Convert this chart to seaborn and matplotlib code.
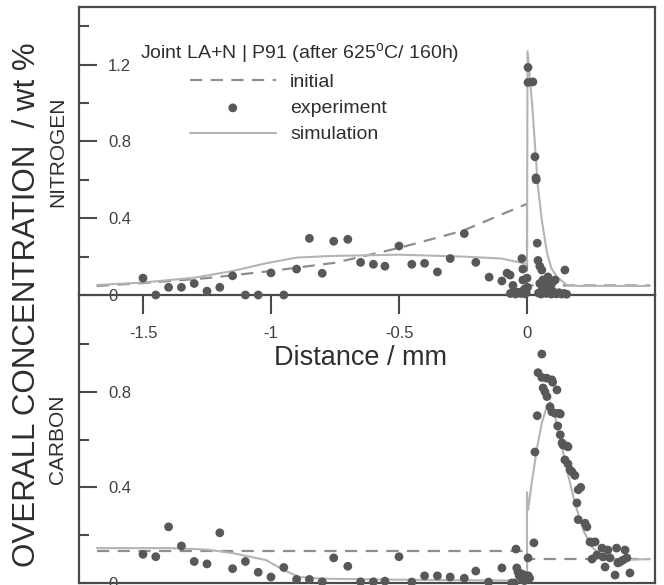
import numpy as np
import pandas as pd
import matplotlib
matplotlib.use("Agg")
import matplotlib.pyplot as plt
import seaborn as sns

# ---------------- NITROGEN (top panel) ----------------
n_init_x = [-1.68, -1.50, -1.25, -1.00, -0.75, -0.50, -0.25, 0.00, 0.00, 0.48]
n_init_y = [0.047, 0.062, 0.088, 0.125, 0.168, 0.245, 0.335, 0.475, 0.05, 0.05]

n_sim_x = [-1.68, -1.50, -1.30, -1.15, -1.02, -0.90, -0.77, -0.50, -0.25, -0.10, -0.03, 0.000,
           0.002, 0.010, 0.022, 0.038, 0.043, 0.058, 0.078, 0.095, 0.117, 0.156, 0.20, 0.48]
n_sim_y = [0.052, 0.065, 0.090, 0.125, 0.165, 0.195, 0.203, 0.210, 0.200, 0.190, 0.170, 0.160,
           1.27, 1.15, 0.96, 0.65, 0.56, 0.39, 0.22, 0.14, 0.094, 0.052, 0.047, 0.047]

n_exp_x = [-1.50, -1.45, -1.40, -1.35, -1.30, -1.25, -1.20, -1.15, -1.10, -1.05, -1.00, -0.95,
           -0.90, -0.85, -0.80, -0.755, -0.70, -0.65, -0.60, -0.555, -0.50, -0.45, -0.40, -0.35,
           -0.30, -0.245, -0.20, -0.148, -0.098, -0.078, -0.066, -0.055, -0.02, -0.016, -0.016, 0.0,
           -0.065, -0.055, -0.045, -0.035, -0.025, -0.015, -0.008, -0.003, -0.010, 0.002,
           0.004, 0.004, 0.023, 0.031, 0.035, 0.036,
           0.040, 0.043, 0.050, 0.058, 0.062, 0.070, 0.082, 0.098, 0.110, 0.148,
           0.045, 0.055, 0.065, 0.075, 0.085, 0.095, 0.105, 0.115, 0.125, 0.135, 0.145, 0.155,
           0.060, 0.090, 0.100, 0.078, 0.050]
n_exp_y = [0.088, 0.0, 0.04, 0.04, 0.06, 0.02, 0.04, 0.10, 0.0, 0.0, 0.115, 0.0,
           0.135, 0.295, 0.113, 0.28, 0.29, 0.17, 0.16, 0.15, 0.255, 0.16, 0.165, 0.12,
           0.19, 0.32, 0.17, 0.093, 0.073, 0.114, 0.104, 0.05, 0.19, 0.135, 0.078, 0.088,
           0.008, 0.012, 0.005, 0.015, 0.008, 0.02, 0.006, 0.012, 0.03, 0.04,
           1.185, 1.107, 1.11, 0.72, 0.61, 0.60,
           0.27, 0.18, 0.15, 0.13, 0.078, 0.042, 0.094, 0.062, 0.078, 0.13,
           0.01, 0.005, 0.015, 0.008, 0.012, 0.005, 0.01, 0.006, 0.012, 0.005, 0.008, 0.004,
           0.03, 0.035, 0.02, 0.05, 0.06]

# ---------------- CARBON (bottom panel) ----------------
c_init_x = [-1.68, 0.00, 0.00, 0.48]
c_init_y = [0.133, 0.133, 0.100, 0.100]

c_sim_x = [-1.68, -1.40, -1.25, -1.15, -1.02, -0.95, -0.89, -0.80, -0.60, -0.30, -0.05, 0.000,
           0.000, 0.004, 0.020, 0.040, 0.058, 0.077, 0.090, 0.110, 0.130, 0.156, 0.187, 0.220,
           0.254, 0.297, 0.350, 0.48]
c_sim_y = [0.146, 0.146, 0.140, 0.125, 0.096, 0.054, 0.025, 0.018, 0.015, 0.012, 0.010, 0.010,
           0.380, 0.305, 0.430, 0.570, 0.670, 0.737, 0.757, 0.695, 0.600, 0.473, 0.335, 0.220,
           0.150, 0.110, 0.096, 0.100]

c_exp_x = [-1.50, -1.45, -1.40, -1.35, -1.30, -1.25, -1.20, -1.15, -1.10, -1.05, -1.00, -0.95,
           -0.90, -0.85, -0.80, -0.755, -0.70, -0.65, -0.60, -0.555, -0.50, -0.45, -0.40, -0.35,
           -0.30, -0.245, -0.20, -0.15, -0.098, -0.043, -0.040,
           -0.035, -0.030, -0.025, -0.020, -0.015, -0.010, -0.005, 0.000, 0.005, 0.010, -0.050,
           -0.060, 0.004, 0.027,
           0.031, 0.040, 0.043, 0.058, 0.058, 0.063, 0.070, 0.077, 0.078, 0.090, 0.097, 0.097,
           0.100, 0.110, 0.117, 0.120, 0.125, 0.130, 0.130, 0.137, 0.141, 0.148, 0.156, 0.160,
           0.160, 0.168, 0.176, 0.187, 0.195, 0.200, 0.210, 0.200, 0.227, 0.234, 0.246, 0.254,
           0.266, 0.293, 0.316, 0.350, 0.383, 0.254, 0.273, 0.297, 0.324, 0.355, 0.375, 0.390,
           0.305, 0.344, 0.402, 0.363]
c_exp_y = [0.12, 0.11, 0.235, 0.155, 0.09, 0.08, 0.21, 0.06, 0.09, 0.045, 0.025, 0.065,
           0.015, 0.015, 0.005, 0.105, 0.07, 0.005, 0.005, 0.008, 0.11, 0.004, 0.03, 0.03,
           0.025, 0.02, 0.05, 0.004, 0.063, 0.142, 0.063,
           0.045, 0.03, 0.04, 0.02, 0.035, 0.01, 0.025, 0.015, 0.03, 0.02, 0.0,
           0.0, 0.105, 0.168,
           0.548, 0.70, 0.88, 0.958, 0.86, 0.816, 0.80, 0.857, 0.78, 0.737, 0.85, 0.716,
           0.84, 0.71, 0.808, 0.657, 0.71, 0.707, 0.62, 0.586, 0.577, 0.515, 0.573, 0.57,
           0.498, 0.473, 0.465, 0.45, 0.335, 0.39, 0.40, 0.265, 0.25, 0.235, 0.172, 0.17,
           0.172, 0.146, 0.138, 0.146, 0.138, 0.10, 0.117, 0.109, 0.105, 0.084, 0.096, 0.105,
           0.067, 0.033, 0.042, 0.088]

x_ticks = [-1.5, -1.0, -0.5, 0.0]
x_tick_labels = ["-1.5", "-1", "-0.5", "0"]
n_yticks = [0.0, 0.4, 0.8, 1.2]
n_ytick_labels = ["0", "0.4", "0.8", "1.2"]
c_yticks = [0.0, 0.4, 0.8]
c_ytick_labels = ["0", "0.4", "0.8"]

# ---------------- style ----------------
sns.set_style("ticks")
plt.rcParams['font.family'] = ['Liberation Sans', 'DejaVu Sans']
plt.rcParams['mathtext.fontset'] = 'custom'
plt.rcParams['mathtext.rm'] = 'Liberation Sans'
plt.rcParams['mathtext.it'] = 'Liberation Sans'

PT_COL = "#585858"
SIM_COL = "#b4b4b4"
INI_COL = "#8e8e8e"
SPINE_COL = "#4a4a4a"
TXT_COL = "#2e2e2e"
TICK_TXT = "#404040"

fig = plt.figure(figsize=(6.64, 5.85), dpi=100)
W, H = 664, 585
L, R = 79 / W, 655 / W
ax_c = fig.add_axes([L, 1 - 583 / H, R - L, (583 - 295) / H])
ax_n = fig.add_axes([L, 1 - 295 / H, R - L, (295 - 7) / H])
ax_n.set_zorder(3)
ax_n.patch.set_alpha(0)


def draw(ax, ix, iy, sx, sy, ex, ey):
    sns.lineplot(x=ix, y=iy, ax=ax, estimator=None, sort=False, color=INI_COL,
                 linewidth=1.6, linestyle=(0, (5.5, 3.8)))
    sns.scatterplot(x=ex, y=ey, ax=ax, color=PT_COL, s=40, edgecolor="none",
                    clip_on=False, zorder=3)
    sns.lineplot(x=sx, y=sy, ax=ax, estimator=None, sort=False, color=SIM_COL,
                 linewidth=1.5)


draw(ax_n, n_init_x, n_init_y, n_sim_x, n_sim_y, n_exp_x, n_exp_y)
draw(ax_c, c_init_x, c_init_y, c_sim_x, c_sim_y, c_exp_x, c_exp_y)

for ax in (ax_n, ax_c):
    ax.set_xlim(-1.75, 0.5)
    for s in ax.spines.values():
        s.set_color(SPINE_COL)
        s.set_linewidth(1.6)
    ax.set_xlabel("")
    ax.set_ylabel("")

ax_n.set_ylim(0, 1.5)
ax_c.set_ylim(0, 1.205)
ax_c.spines['top'].set_visible(False)

# x ticks (top panel only)
ax_n.set_xticks(x_ticks)
ax_n.set_xticklabels(x_tick_labels, fontsize=12, color=TICK_TXT)
ax_n.tick_params(axis='x', direction='out', length=14, width=1.5, color=SPINE_COL, pad=8)
ax_c.set_xticks([])

# y ticks inside, labels inside
for ax, yt, yl, minors in ((ax_n, n_yticks, n_ytick_labels, [0.2, 0.6, 1.0, 1.4]),
                           (ax_c, c_yticks, c_ytick_labels, [0.2, 0.6, 1.0])):
    ax.set_yticks(yt)
    ax.set_yticklabels(yl, fontsize=12, color=TICK_TXT)
    ax.set_yticks(minors, minor=True)
    ax.tick_params(axis='y', which='major', direction='in', length=13, width=1.5,
                   color=SPINE_COL, pad=-21)
    ax.tick_params(axis='y', which='minor', direction='in', length=7.5, width=1.5,
                   color=SPINE_COL)
    for lab in ax.get_yticklabels():
        lab.set_horizontalalignment('left')

# legend & annotation
ax_n.text((140 - 79) / 576, (295 - 53) / 288,
          "Joint LA+N | P91 (after 625$^{\\rm o}$C/ 160h)",
          transform=ax_n.transAxes, fontsize=14, color=TXT_COL, va='center', ha='left')
handles = [ax_n.lines[0], ax_n.collections[0], ax_n.lines[1]]
ax_n.legend(handles, ["initial", "experiment", "simulation"],
            loc='upper left', bbox_to_anchor=((190 - 79) / 576, (295 - 73) / 288),
            frameon=False, fontsize=14, handlelength=4.4, handletextpad=0.75,
            borderpad=0, borderaxespad=0, labelspacing=0.45, labelcolor=TXT_COL)

# axis titles
fig.text(361 / W, 1 - 358 / H, "Distance / mm", fontsize=19.5, color=TXT_COL,
         ha='center', va='center')
fig.text(27 / W, 1 - 305 / H, "OVERALL CONCENTRATION  / wt %", fontsize=22.5,
         color=TXT_COL, rotation=90, ha='center', va='center')
fig.text(58 / W, 1 - 152 / H, "NITROGEN", fontsize=15, color=TXT_COL,
         rotation=90, ha='center', va='center')
fig.text(58 / W, 1 - 439 / H, "CARBON", fontsize=15, color=TXT_COL,
         rotation=90, ha='center', va='center')

fig.savefig("out.png", dpi=100)
